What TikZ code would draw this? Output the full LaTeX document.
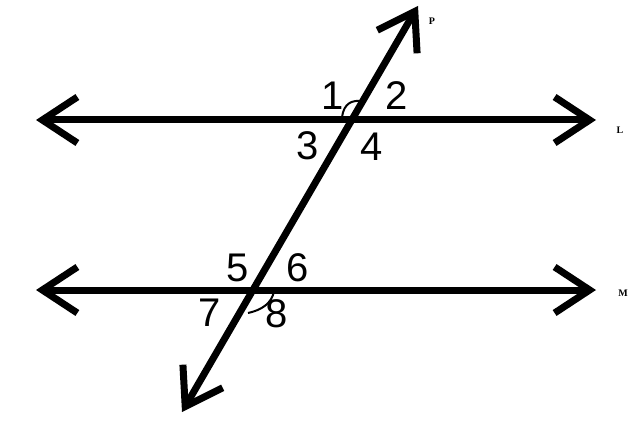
\documentclass[tikz,border=0pt]{standalone}
\usepackage{fontspec}
\setmainfont{Liberation Sans}
\newfontfamily\namefont{Liberation Serif}
\usetikzlibrary{arrows.meta}

\begin{document}
\begin{tikzpicture}[x=1pt, y=-1pt,
    line/.style={line width=7pt,
        {Straight Barb[length=35pt, width=46pt]}-{Straight Barb[length=35pt, width=46pt]}},
    num/.style={inner sep=0pt, font=\fontsize{40}{40}\selectfont},
    linename/.style={inner sep=0pt, font=\namefont\bfseries\fontsize{10}{10}\selectfont},
    arcmark/.style={line width=2pt}]
        \useasboundingbox (0,0) rectangle (639,430);

        % Add the end points
        \coordinate (l1) at (36,120);
        \coordinate (l2) at (596,120);
        \coordinate (m1) at (36,290);
        \coordinate (m2) at (596,290);
        \coordinate (p1) at (182,412);
        \coordinate (p2) at (418,6);

        % Add the lines
        \draw[line] (l1) -- (l2);
        \draw[line] (m1) -- (m2);
        \draw[line] (p1) -- (p2);

        % Add the line names
        \node[linename] (L) at (620,130) {L};
        \node[linename] (M) at (623,293) {M};
        \node[linename] (P) at (432,21) {P};

        % Add the angle numbers
        \node[num] (n1) at (333,96) {1};
        \node[num] (n2) at (397,96) {2};
        \node[num] (n3) at (308,146) {3};
        \node[num] (n4) at (372,147) {4};
        \node[num] (n5) at (238,268) {5};
        \node[num] (n6) at (298,268) {6};
        \node[num] (n7) at (210,313) {7};
        \node[num] (n8) at (277,314) {8};

        % Add the angle marks
        \draw[arcmark] (342,117) .. controls (344,103) and (352,100) .. (362,101);
        \draw[arcmark] (248,313) .. controls (262,310) and (272,303) .. (274,291);
    \end{tikzpicture}
\end{document}
